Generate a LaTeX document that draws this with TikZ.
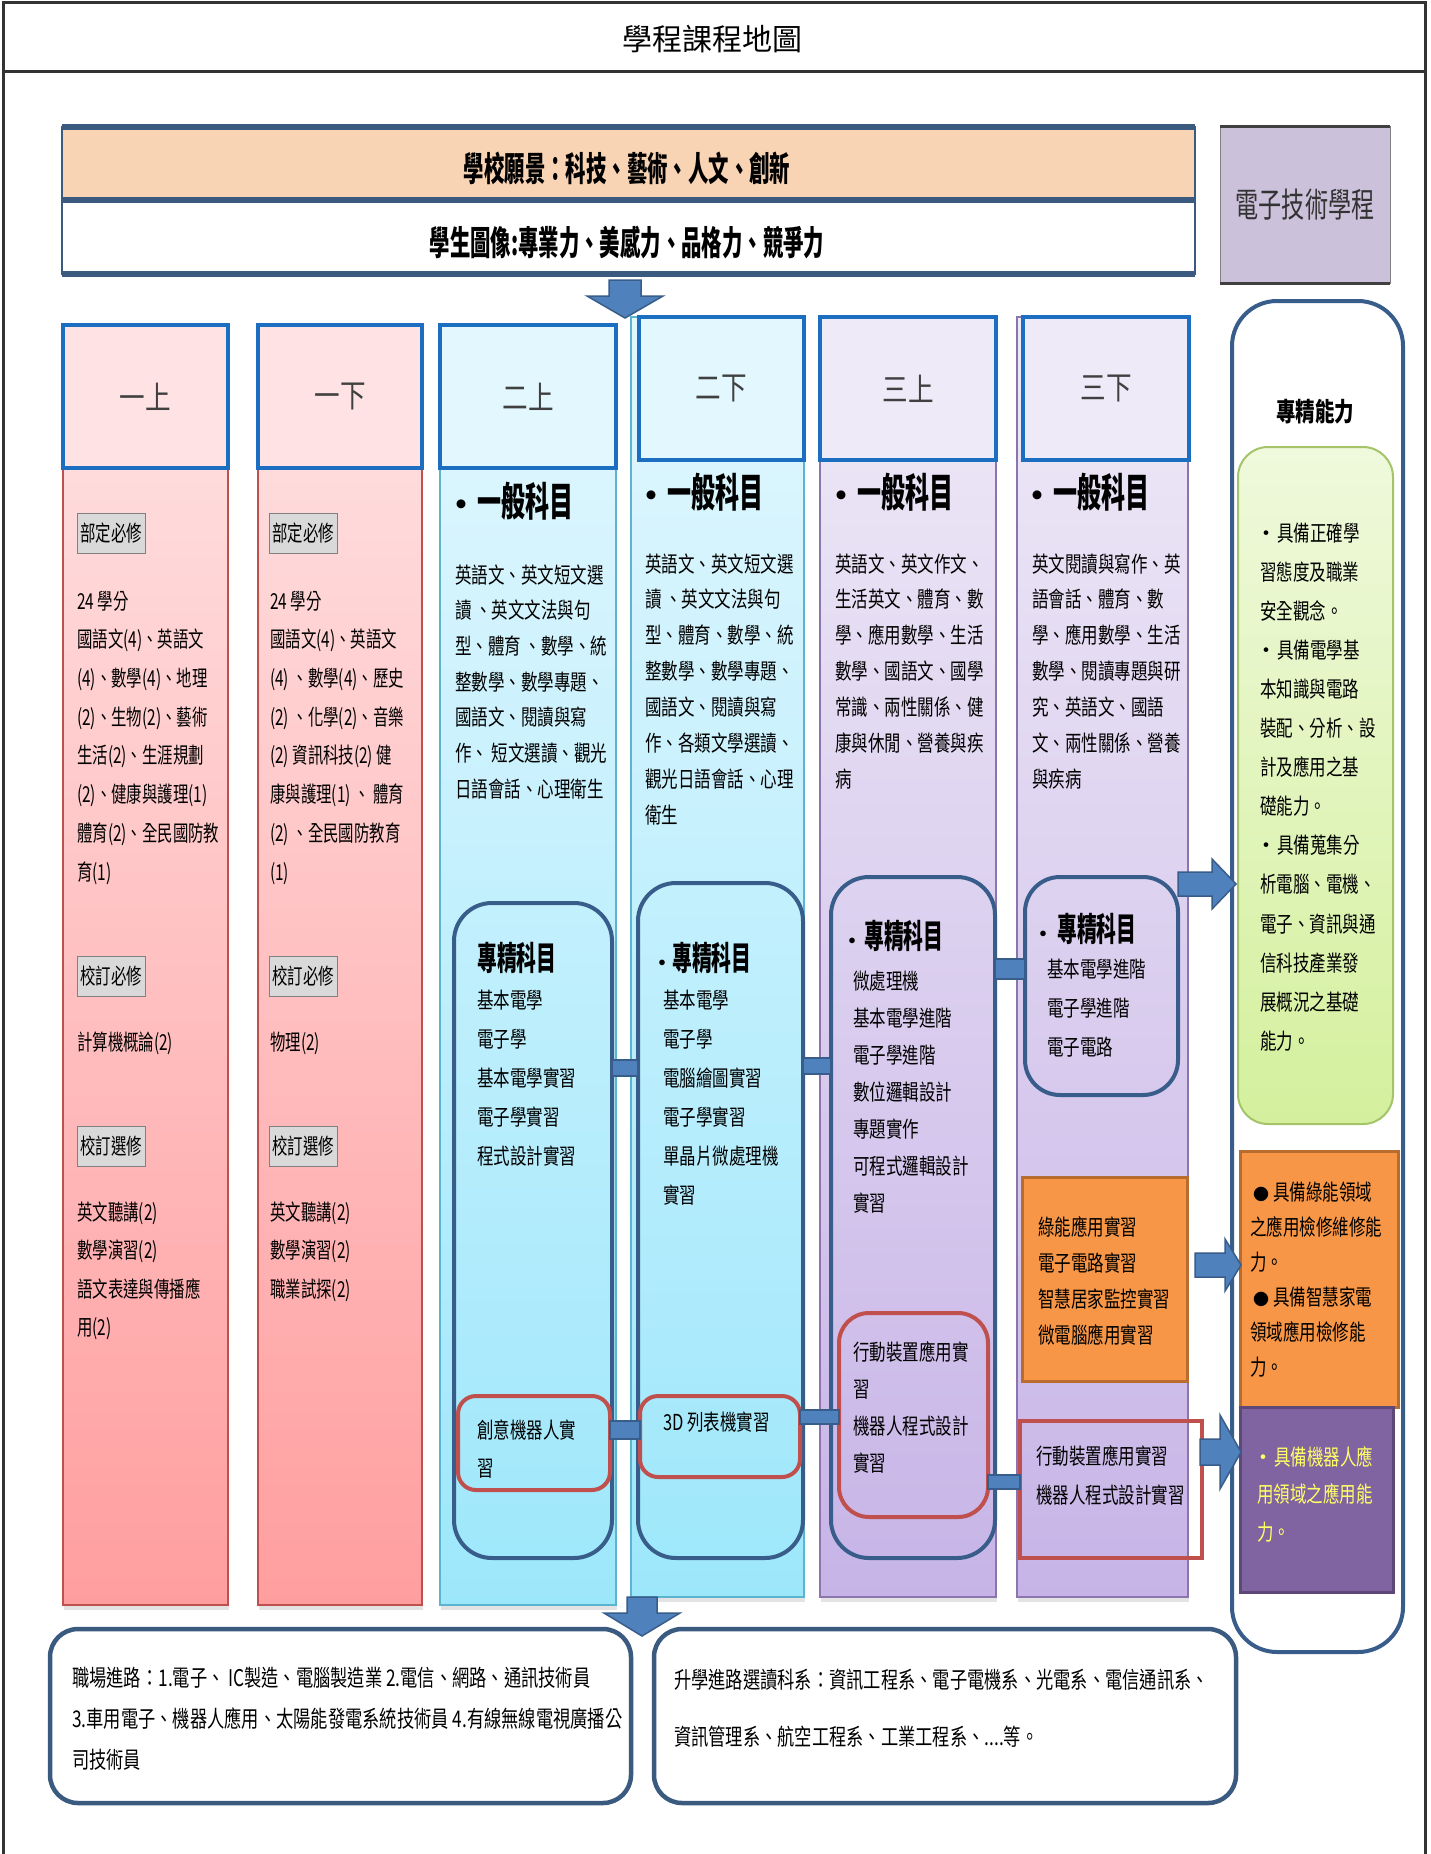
\documentclass[tikz,border=0pt]{standalone}
\usepackage{fontspec}
\setmainfont{Noto Sans CJK TC}
\newfontfamily\titlef{Noto Sans CJK TC}
\newfontfamily\bodyf[FakeStretch=0.75]{Noto Sans CJK TC}
\newfontfamily\narf[FakeStretch=0.7]{Noto Sans CJK TC}
\newfontfamily\headf[FakeStretch=0.6]{Noto Sans CJK TC}
\newfontfamily\colf[FakeStretch=0.8]{Noto Sans CJK TC}
\newfontfamily\ectf[FakeStretch=0.68]{Noto Sans CJK TC}
\usetikzlibrary{shadows}

\definecolor{framec}{HTML}{333333}
\definecolor{bandark}{HTML}{3B5A80}
\definecolor{peach}{HTML}{F9D4B4}
\definecolor{lav}{HTML}{CCC1DA}
\definecolor{hblue}{HTML}{1C6EC1}
\definecolor{pinkT}{HTML}{FFE3E4}
\definecolor{pinkB}{HTML}{FF9E9F}
\definecolor{pinkE}{HTML}{C0504D}
\definecolor{cyanT}{HTML}{E2F7FE}
\definecolor{cyanB}{HTML}{9DE7FB}
\definecolor{cyanE}{HTML}{5BB5CF}
\definecolor{purT}{HTML}{EFEAF7}
\definecolor{purB}{HTML}{C7B4E7}
\definecolor{purE}{HTML}{8C74AE}
\definecolor{rbox}{HTML}{385D8A}
\definecolor{redb}{HTML}{C0504D}
\definecolor{barf}{HTML}{4F81BD}
\definecolor{orangef}{HTML}{F79646}
\definecolor{oranged}{HTML}{B86C2E}
\definecolor{purf}{HTML}{8064A2}
\definecolor{purd}{HTML}{5D4878}
\definecolor{greenT}{HTML}{EFF9DC}
\definecolor{greenB}{HTML}{D4F09D}
\definecolor{greenE}{HTML}{A5C46A}
\definecolor{lblf}{HTML}{D9D9D9}
\definecolor{yel}{HTML}{FFFF66}
\definecolor{hdtext}{HTML}{404040}

\newcommand{\fs}[2]{\fontsize{#1}{#2}\selectfont}
\newcommand{\bx}[7][]{\node[#3,anchor=north west,inner sep=0pt,outer sep=0pt,minimum width={(#6-#4)*1pt},minimum height={(#7-#5)*1pt},#1] (#2) at (#4,#5) {};}
\newcommand{\rarr}[6]{\draw[blk] (#1,#4-#5) -- (#2,#4-#5) -- (#2,#4-#6) -- (#3,#4) -- (#2,#4+#6) -- (#2,#4+#5) -- (#1,#4+#5) -- cycle;}
\newcommand{\darr}[6]{\draw[blk] (#1-#5,#2) -- (#1+#5,#2) -- (#1+#5,#3) -- (#1+#6,#3) -- (#1,#4) -- (#1-#6,#3) -- (#1-#5,#3) -- cycle;}
\newcommand{\hbul}{{\titlef\fs{32}{34}•}}
\newcommand{\sdot}{{\titlef\fs{20}{22}·}}
\newcommand{\gbul}{\hspace{-5pt}{\titlef\fs{22}{24}•}}
\newcommand{\obul}{\hspace{3pt}{\titlef\fs{16}{20}●}\hspace{4pt}}

\begin{document}
\begin{tikzpicture}[x=1pt,y=-1pt,
  colbody/.style={draw=#1, line width=1.2pt, drop shadow={shadow xshift=1pt, shadow yshift=-5pt, opacity=.22}},
  hdr/.style={fill=#1, draw=hblue, line width=4.5pt},
  hdl/.style={font=\colf\fs{32}{34}, text=hdtext},
  hd/.style={font=\headf\bfseries\fs{40}{42}, anchor=base west, inner sep=0pt},
  hdtwo/.style={font=\headf\bfseries\fs{33}{35}, anchor=base west, inner sep=0pt},
  txt/.style={anchor=base west, align=left, inner sep=0pt},
  lbl/.style={draw=gray, fill=lblf, line width=1pt, minimum width=68pt, minimum height=40pt, inner sep=0pt, font=\narf\fs{22}{24}},
  rbx/.style={draw=rbox, line width=4pt, rounded corners=#1},
  redr/.style={draw=redb, line width=4pt, rounded corners=#1},
  bar/.style={fill=barf, draw=rbox, line width=1.2pt},
  blk/.style={fill=barf, draw=rbox, line width=1.5pt, line join=miter}
]
\useasboundingbox (0,0) rectangle (1430,1854);
\fill[white] (0,0) rectangle (1430,1854);

% frame and title
\draw[line width=3pt, framec] (3,1860) -- (3,3) -- (1425,3) -- (1425,1860);
\draw[line width=3pt, framec] (3,72) -- (1425,72);
\node[font=\titlef\fs{30}{32}] (title) at (712,39) {學程課程地圖};

% banner
\bx{ban1}{fill=peach, draw=bandark, line width=1.5pt}{62}{127}{1195}{200}
\bx{ban2}{fill=white, draw=bandark, line width=1.5pt}{62}{200}{1195}{274}
\draw[bandark, line width=6pt] (ban1.north west) -- (ban1.north east);
\draw[bandark, line width=6pt] (ban1.south west) -- (ban1.south east);
\draw[bandark, line width=6pt] (ban2.south west) -- (ban2.south east);
\node[font=\headf\bfseries\fs{34}{36}] (vis) at (627,168) {學校願景：科技、藝術、人文、創新};
\node[font=\headf\bfseries\fs{34}{36}] (img) at (627,242) {學生圖像:專業力、美感力、品格力、競爭力};

% program name box
\bx{ect}{fill=lav, draw=gray, line width=1pt}{1220}{127}{1390}{283}
\draw[line width=3pt, hdtext] (ect.north west) -- (ect.north east);
\draw[line width=3pt, hdtext] (ect.south west) -- (ect.south east);
\node[font=\ectf\fs{34}{36}, text=framec] (ectt) at (ect) {電子技術學程};

% column bodies
\bx{k1}{colbody=pinkE, top color=pinkT, bottom color=pinkB}{63}{325}{228}{1605}
\bx{k2}{colbody=pinkE, top color=pinkT, bottom color=pinkB}{258}{325}{422}{1605}
\bx{k3}{colbody=cyanE, top color=cyanT, bottom color=cyanB}{440}{325}{616}{1605}
\bx{k4}{colbody=cyanE, top color=cyanT, bottom color=cyanB}{631}{317}{804}{1597}
\bx{k5}{colbody=purE, top color=purT, bottom color=purB}{820}{317}{996}{1597}
\bx{k6}{colbody=purE, top color=purT, bottom color=purB}{1017}{317}{1188}{1597}

% headers
\bx{h1}{hdr=pinkT}{63}{325}{228}{468}
\bx{h2}{hdr=pinkT}{258}{325}{422}{468}
\bx{h3}{hdr=cyanT}{440}{325}{616}{468}
\bx{h4}{hdr=cyanT}{639}{317}{804}{460}
\bx{h5}{hdr=purT}{820}{317}{996}{460}
\bx{h6}{hdr=purT}{1023}{317}{1189}{460}
\node[hdl] (h1t) at (h1) {一上};
\node[hdl] (h2t) at (h2) {一下};
\node[hdl] (h3t) at (h3) {二上};
\node[hdl] (h4t) at (h4) {二下};
\node[hdl] (h5t) at (h5) {三上};
\node[hdl] (h6t) at (h6) {三下};

% column 1 (base = last line)
\node[lbl] (l1a) at (111,533) {部定必修};
\node[txt, font=\narf\fs{22}{38.7}] (t1a) at (77,880) {24 學分\\國語文(4)、英語文\\(4)、數學(4)、地理\\(2)、生物(2)、藝術\\生活(2)、生涯規劃\\(2)、健康與護理(1)\\體育(2)、全民國防教\\育(1)};
\node[lbl] (l1b) at (111,976) {校訂必修};
\node[txt, font=\narf\fs{22}{38.7}] (t1b) at (77,1050) {計算機概論(2)};
\node[lbl] (l1c) at (111,1146) {校訂選修};
\node[txt, font=\narf\fs{22}{38.5}] (t1c) at (77,1335.5) {英文聽講(2)\\數學演習(2)\\語文表達與傳播應\\用(2)};

% column 2
\node[lbl] (l2a) at (303,533) {部定必修};
\node[txt, font=\narf\fs{22}{38.7}] (t2a) at (270,880) {24 學分\\國語文(4)、英語文\\(4) 、數學(4)、歷史\\(2) 、化學(2)、音樂\\(2) 資訊科技(2) 健\\康與護理(1) 、 體育\\(2) 、全民國防教育\\(1)};
\node[lbl] (l2b) at (303,976) {校訂必修};
\node[txt, font=\narf\fs{22}{38.7}] (t2b) at (270,1050) {物理(2)};
\node[lbl] (l2c) at (303,1146) {校訂選修};
\node[txt, font=\narf\fs{22}{38.5}] (t2c) at (270,1297) {英文聽講(2)\\數學演習(2)\\職業試探(2)};

% general subjects
\node[hd] (g3) at (445,516) {\hbul 一般科目};
\node[hd] (g4) at (635,507) {\hbul 一般科目};
\node[hd] (g5) at (825,507) {\hbul 一般科目};
\node[hd] (g6) at (1021,507) {\hbul 一般科目};
\node[txt, font=\bodyf\fs{22}{35.7}] (t3) at (455,797.2) {英語文、英文短文選\\讀 、英文文法與句\\型、體育 、數學、統\\整數學、數學專題、\\國語文、閱讀與寫\\作、 短文選讀、觀光\\日語會話、心理衛生};
\node[txt, font=\bodyf\fs{22}{35.9}] (t4) at (645,823.3) {英語文、英文短文選\\讀 、英文文法與句\\型、體育、數學、統\\整數學、數學專題、\\國語文、閱讀與寫\\作、各類文學選讀、\\觀光日語會話、心理\\衛生};
\node[txt, font=\bodyf\fs{22}{35.9}] (t5) at (835,787.4) {英語文、英文作文、\\生活英文、體育、數\\學、應用數學、生活\\數學、國語文、國學\\常識、兩性關係、健\\康與休閒、營養與疾\\病};
\node[txt, font=\bodyf\fs{22}{35.9}] (t6) at (1032,787.4) {英文閱讀與寫作、英\\語會話、體育、數\\學、應用數學、生活\\數學、閱讀專題與研\\究、英語文、國語\\文、兩性關係、營養\\與疾病};

% specialised boxes
\bx{b3}{rbx=38pt}{454}{903}{612}{1558}
\bx{b4}{rbx=38pt}{638}{883}{803}{1558}
\bx{b5}{rbx=38pt}{831}{877}{995}{1558}
\bx{b6}{rbx=35pt}{1025}{877}{1178}{1095}
\bx{r3}{redr=18pt}{458}{1396}{610}{1490}
\bx{r4}{redr=18pt}{640}{1396}{800}{1477}
\bx{r5}{redr=30pt}{839}{1313}{988}{1517}
\bx{r6}{draw=redb, line width=3.5pt}{1020}{1421}{1202}{1558}
\bx{o6}{fill=orangef, draw=oranged, line width=3pt}{1022}{1177}{1187}{1381}

\node[hdtwo] (s3h) at (477,970) {專精科目};
\node[txt, font=\bodyf\fs{22}{39}] (s3t) at (477,1164) {基本電學\\電子學\\基本電學實習\\電子學實習\\程式設計實習};
\node[txt, font=\bodyf\fs{22}{38}] (r3t) at (477,1476) {創意機器人實\\習};

\node[hdtwo] (s4h) at (652,970) {\sdot 專精科目};
\node[txt, font=\bodyf\fs{22}{39}] (s4t) at (663,1203) {基本電學\\電子學\\電腦繪圖實習\\電子學實習\\單晶片微處理機\\實習};
\node[txt, font=\bodyf\fs{22}{38}] (r4t) at (663,1430) {3D 列表機實習};

\node[hdtwo] (s5h) at (842,948) {\sdot\hspace{2pt}專精科目};
\node[txt, font=\bodyf\fs{22}{37}] (s5t) at (853,1211) {微處理機\\基本電學進階\\電子學進階\\數位邏輯設計\\專題實作\\可程式邏輯設計\\實習};
\node[txt, font=\bodyf\fs{22}{37}] (r5t) at (853,1471) {行動裝置應用實\\習\\機器人程式設計\\實習};

\node[hdtwo] (s6h) at (1033,941) {\sdot\hspace{4pt}專精科目};
\node[txt, font=\bodyf\fs{22}{39}] (s6t) at (1047,1055) {基本電學進階\\電子學進階\\電子電路};
\node[txt, font=\bodyf\fs{22}{35.7}] (o6t) at (1038,1343) {綠能應用實習\\電子電路實習\\智慧居家監控實習\\微電腦應用實習};
\node[txt, font=\bodyf\fs{22}{39}] (r6t) at (1036,1503) {行動裝置應用實習\\機器人程式設計實習};

% connectors between boxes
\path[bar] (b3.east |- 0,1060) rectangle (b4.west |- 0,1076);
\path[bar] (r3.east |- 0,1421) rectangle (r4.west |- 0,1439);
\path[bar] (b4.east |- 0,1058) rectangle (b5.west |- 0,1074);
\path[bar] (r4.east |- 0,1410) rectangle (r5.west |- 0,1424);
\path[bar] (b5.east |- 0,959) rectangle (b6.west |- 0,979);
\path[bar] (r5.east |- 0,1475) rectangle (r6.west |- 0,1489);

% competences
\bx{cap}{draw=rbox, line width=4pt, rounded corners=45pt, fill=white}{1232}{301}{1403}{1652}
\node[font=\bodyf\bfseries\fs{26}{28}] (capt) at (1315,412) {專精能力};
\bx{gr}{draw=greenE, line width=2pt, rounded corners=30pt, top color=greenT, bottom color=greenB}{1238}{447}{1393}{1124}
\bx{ok}{fill=orangef, draw=oranged, line width=3pt}{1240}{1151}{1398}{1407}
\bx{pk}{fill=purf, draw=purd, line width=3pt}{1240}{1407}{1393}{1592}
\node[txt, font=\bodyf\fs{22}{39.1}] (grt) at (1260,1049.3) {\gbul 具備正確學\\習態度及職業\\安全觀念。\\\gbul 具備電學基\\本知識與電路\\裝配、分析、設\\計及應用之基\\礎能力。\\\gbul 具備蒐集分\\析電腦、電機、\\電子、資訊與通\\信科技產業發\\展概況之基礎\\能力。};
\node[txt, font=\bodyf\fs{22}{35}] (okt) at (1250,1375) {\obul 具備綠能領域\\之應用檢修維修能\\力。\\\obul 具備智慧家電\\領域應用檢修能\\力。};
\node[txt, font=\bodyf\fs{22}{37.5}, text=yel] (pkt) at (1257,1540) {\gbul 具備機器人應\\用領域之應用能\\力。};

% pathways
\bx{p1}{draw=bandark, line width=4.5pt, rounded corners=28pt, fill=white}{50}{1629}{631}{1803}
\bx{p2}{draw=bandark, line width=4.5pt, rounded corners=28pt, fill=white}{654}{1629}{1236}{1803}
\node[txt, font=\bodyf\fs{23}{41}] (p1t) at (72,1768) {職場進路：1.電子、 IC製造、電腦製造業 2.電信、網路、通訊技術員\\3.車用電子、機器人應用、太陽能發電系統技術員 4.有線無線電視廣播公\\司技術員};
\node[txt, font=\bodyf\fs{23}{57}] (p2t) at (674,1745) {升學進路選讀科系：資訊工程系、電子電機系、光電系、電信通訊系、\\資訊管理系、航空工程系、工業工程系、....等。};

% block arrows
\darr{625}{280}{296}{318}{16}{38}
\darr{642}{1597}{1613}{1636}{15}{38}
\rarr{1178}{1212}{1236}{884}{12}{25}
\rarr{1195}{1225}{1241}{1265}{12}{26}
\rarr{1200}{1220}{1241}{1452}{13}{37}
\end{tikzpicture}
\end{document}
